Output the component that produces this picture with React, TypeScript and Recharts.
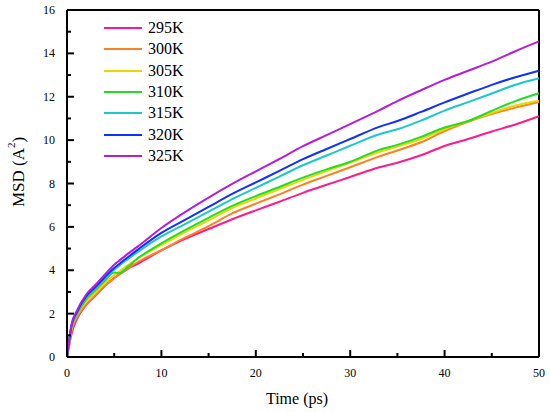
import React from "react";
import { LineChart, Line, XAxis, YAxis, Legend, ReferenceLine, Label } from "recharts";

// time axis (ps)
const TIMES = [0, 0.5, 1, 2, 3, 4, 5, 5.5, 6.5, 7.5, 10, 12.5, 15, 17.5, 20, 22.5, 25, 27.5, 30, 33, 35, 37.5, 40, 42.5, 45, 47.5, 50];

// MSD values per temperature
const MSD_295 = [0, 1.1, 1.7, 2.38, 2.82, 3.27, 3.65, 3.8, 4.08, 4.3, 4.92, 5.45, 5.9, 6.35, 6.76, 7.16, 7.57, 7.94, 8.3, 8.74, 8.96, 9.3, 9.73, 10.05, 10.4, 10.72, 11.1];
const MSD_300 = [0, 1.25, 1.8, 2.4, 2.85, 3.28, 3.63, 3.8, 4.1, 4.38, 4.93, 5.5, 6.03, 6.62, 7.07, 7.5, 7.95, 8.35, 8.75, 9.24, 9.52, 9.9, 10.42, 10.85, 11.2, 11.5, 11.76];
const MSD_305 = [0, 1.35, 1.88, 2.55, 2.98, 3.4, 3.78, 3.93, 4.25, 4.55, 5.16, 5.75, 6.3, 6.87, 7.31, 7.74, 8.17, 8.57, 8.96, 9.44, 9.7, 10.05, 10.5, 10.88, 11.25, 11.6, 11.82];
const MSD_310 = [0, 1.4, 1.93, 2.65, 3.08, 3.52, 3.9, 3.86, 4.18, 4.55, 5.24, 5.85, 6.42, 6.97, 7.42, 7.84, 8.27, 8.65, 9.0, 9.54, 9.78, 10.15, 10.58, 10.88, 11.35, 11.8, 12.16];
const MSD_315 = [0, 1.45, 1.98, 2.72, 3.15, 3.6, 4.02, 4.2, 4.53, 4.85, 5.56, 6.13, 6.7, 7.28, 7.8, 8.32, 8.84, 9.29, 9.74, 10.26, 10.5, 10.9, 11.36, 11.75, 12.15, 12.55, 12.85];
const MSD_320 = [0, 1.5, 2.03, 2.78, 3.22, 3.68, 4.1, 4.28, 4.62, 4.95, 5.72, 6.32, 6.92, 7.52, 8.05, 8.58, 9.12, 9.59, 10.05, 10.6, 10.88, 11.3, 11.74, 12.15, 12.55, 12.9, 13.2];
const MSD_325 = [0, 1.55, 2.09, 2.86, 3.32, 3.8, 4.25, 4.43, 4.78, 5.1, 5.95, 6.68, 7.35, 7.98, 8.56, 9.13, 9.72, 10.23, 10.74, 11.36, 11.8, 12.3, 12.78, 13.2, 13.62, 14.1, 14.55];

const X_TICKS = [0, 5, 10, 15, 20, 25, 30, 35, 40, 45, 50];
const Y_TICKS = [0, 1, 2, 3, 4, 5, 6, 7, 8, 9, 10, 11, 12, 13, 14, 15, 16];

const SERIES = [
  { name: "295K", color: "#ff1a8c", values: MSD_295 },
  { name: "300K", color: "#ff8020", values: MSD_300 },
  { name: "305K", color: "#e8d800", values: MSD_305 },
  { name: "310K", color: "#22dd22", values: MSD_310 },
  { name: "315K", color: "#1ec8c8", values: MSD_315 },
  { name: "320K", color: "#1030ff", values: MSD_320 },
  { name: "325K", color: "#b41ed8", values: MSD_325 },
];

const data = TIMES.map((t, i) => {
  const row: Record<string, number> = { t };
  SERIES.forEach((s) => (row[s.name] = s.values[i]));
  return row;
});

const FONT = "'Liberation Serif', 'DejaVu Serif', serif";

function XTick(props: any) {
  const { x, y, payload } = props;
  const major = payload.value % 10 === 0;
  return (
    <g>
      <line x1={x} y1={y} x2={x} y2={y - (major ? 7 : 4)} stroke="#000" strokeWidth={2} />
      {major && (
        <text x={x} y={y + 20} textAnchor="middle" fontFamily={FONT} fontSize={12} fill="#000">
          {payload.value}
        </text>
      )}
    </g>
  );
}

function YTick(props: any) {
  const { x, y, payload } = props;
  const major = payload.value % 2 === 0;
  return (
    <g>
      <line x1={x} y1={y} x2={x + (major ? 7 : 4)} y2={y} stroke="#000" strokeWidth={2} />
      {major && (
        <text x={x - 12} y={y + 4} textAnchor="end" fontFamily={FONT} fontSize={12} fill="#000">
          {payload.value}
        </text>
      )}
    </g>
  );
}

function LegendBox(props: any) {
  return (
    <div style={{ fontFamily: FONT, fontSize: 16, color: "#000" }}>
      {props.payload.map((p: any) => (
        <div key={p.value} style={{ display: "flex", alignItems: "center", height: 21.3 }}>
          <span style={{ display: "inline-block", width: 38, height: 2, background: p.color, marginRight: 6 }} />
          <span>{p.value}</span>
        </div>
      ))}
    </div>
  );
}

export default function App() {
  return (
    <div style={{ position: "absolute", left: 0, top: 0, background: "#fff" }}>
      <LineChart width={550} height={412} data={data} margin={{ top: 10, right: 11, bottom: 0, left: 0 }}>
        <XAxis
          dataKey="t"
          type="number"
          domain={[0, 50]}
          ticks={X_TICKS}
          interval={0}
          height={55}
          tickSize={0}
          tickMargin={0}
          tickLine={false}
          axisLine={{ stroke: "#000", strokeWidth: 2 }}
          tick={<XTick />}
        >
          <Label
            content={() => (
              <text x={297} y={404} textAnchor="middle" fontFamily={FONT} fontSize={16} fill="#000">
                Time (ps)
              </text>
            )}
          />
        </XAxis>
        <YAxis
          type="number"
          domain={[0, 16]}
          ticks={Y_TICKS}
          interval={0}
          width={67}
          tickSize={0}
          tickMargin={0}
          tickLine={false}
          axisLine={{ stroke: "#000", strokeWidth: 2 }}
          tick={<YTick />}
        >
          <Label
            content={() => (
              <text
                x={18}
                y={172}
                transform="rotate(-90, 18, 172)"
                textAnchor="middle"
                dominantBaseline="central"
                fontFamily={FONT}
                fontSize={17}
                fill="#000"
              >
                <tspan>MSD (A</tspan>
                <tspan dy={-7} fontSize={11}>2</tspan>
                <tspan dy={7}>)</tspan>
              </text>
            )}
          />
        </YAxis>
        <ReferenceLine y={16} stroke="#000" strokeWidth={2} />
        <ReferenceLine x={50} stroke="#000" strokeWidth={2} />
        <Legend
          layout="vertical"
          align="center"
          verticalAlign="middle"
          content={<LegendBox />}
          wrapperStyle={{ position: "absolute", left: 104, top: 17.5, width: "auto" }}
        />
        {SERIES.map((s) => (
          <Line
            key={s.name}
            dataKey={s.name}
            name={s.name}
            stroke={s.color}
            strokeWidth={2}
            dot={false}
            type="monotone"
            isAnimationActive={false}
          />
        ))}
      </LineChart>
    </div>
  );
}
